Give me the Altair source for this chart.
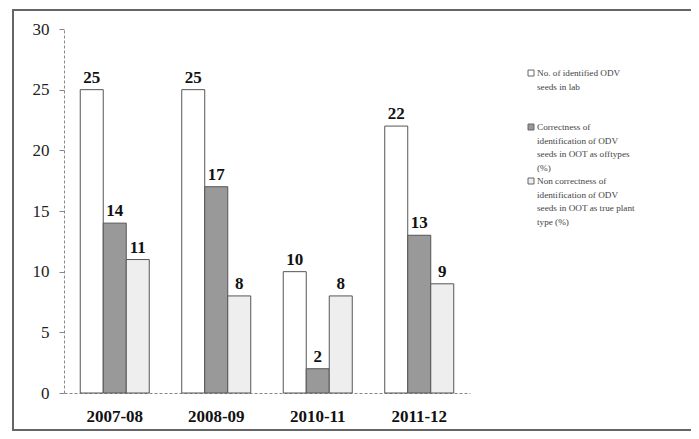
import altair as alt
import pandas as pd

years = ["2007-08", "2008-09", "2010-11", "2011-12"]
series = [
    "No. of identified ODV|seeds in lab",
    "Correctness of|identification of ODV|seeds in OOT as offtypes|(%)",
    "Non correctness of|identification of ODV|seeds in OOT as true plant|type (%)",
]
identified = [25, 25, 10, 22]
correct = [14, 17, 2, 13]
noncorrect = [11, 8, 8, 9]
colors = ["#ffffff", "#999999", "#eeeeee"]
legend_slots = [0, 4, 8]  # line slot where each legend entry starts

rows = []
for i, y in enumerate(years):
    for s, vals in zip(series, [identified, correct, noncorrect]):
        rows.append({"year": y, "series": s, "value": vals[i]})
df = pd.DataFrame(rows)

FONT = "Liberation Serif"

x = alt.X("year:N", sort=years, title=None,
          scale=alt.Scale(paddingInner=0.32, paddingOuter=0.16),
          axis=alt.Axis(labelAngle=0, labelFontWeight="bold", labelFontSize=17,
                        labelFont=FONT, labelColor="#111", labelPadding=15,
                        ticks=False, domainDash=[3, 2], domainColor="#888"))
xo = alt.XOffset("series:N", sort=series, scale=alt.Scale(paddingInner=0, paddingOuter=0))
y = alt.Y("value:Q", title=None,
          scale=alt.Scale(domain=[0, 30], nice=False),
          axis=alt.Axis(values=[0, 5, 10, 15, 20, 25, 30], grid=False,
                        labelFont=FONT, labelFontSize=17, labelColor="#222",
                        labelPadding=10, tickSize=5, tickColor="#888",
                        domainDash=[3, 2], domainColor="#888"))

fill = alt.Fill("series:N", sort=series,
                scale=alt.Scale(domain=series, range=colors), legend=None)

bars = alt.Chart(df).mark_bar(stroke="#555", strokeWidth=1).encode(
    x=x, xOffset=xo, y=y, fill=fill)

labels = alt.Chart(df).mark_text(dy=-7, baseline="alphabetic", fontWeight="bold",
                                  fontSize=17, font=FONT, color="#111").encode(
    x=x, xOffset=xo, y=y, text="value:Q")

frame = alt.Chart(df).mark_rect(fill=None, stroke="#666", strokeWidth=1.2, clip=False).encode(
    x=alt.value(-51), x2=alt.value(629), y=alt.value(-19), y2=alt.value(401))

# custom legend (to the right of the plot)
LINE = 13.5
leg_layers = []
for s, c, slot in zip(series, colors, legend_slots):
    ld = pd.DataFrame({"series": [s]})
    ypos = 44 + slot * LINE
    leg_layers.append(alt.Chart(ld).mark_square(size=36, stroke="#666", strokeWidth=1,
                                                fill=c, opacity=1, clip=False).encode(
        x=alt.value(467), y=alt.value(ypos)))
    leg_layers.append(alt.Chart(ld).mark_text(align="left", baseline="middle", lineBreak="|",
                                              lineHeight=LINE, font=FONT, fontSize=9.2,
                                              color="#444", clip=False).encode(
        x=alt.value(473), y=alt.value(ypos), text="series:N"))

chart = alt.layer(bars, labels, frame, *leg_layers).properties(
    width=406, height=364,
    background="#ffffff",
    autosize=alt.AutoSizeParams(type="none"),
    padding={"left": 56, "top": 21, "right": 221, "bottom": 38},
).configure_view(strokeWidth=0)

chart.save("out.html", embed_options={"renderer": "svg", "actions": False})
